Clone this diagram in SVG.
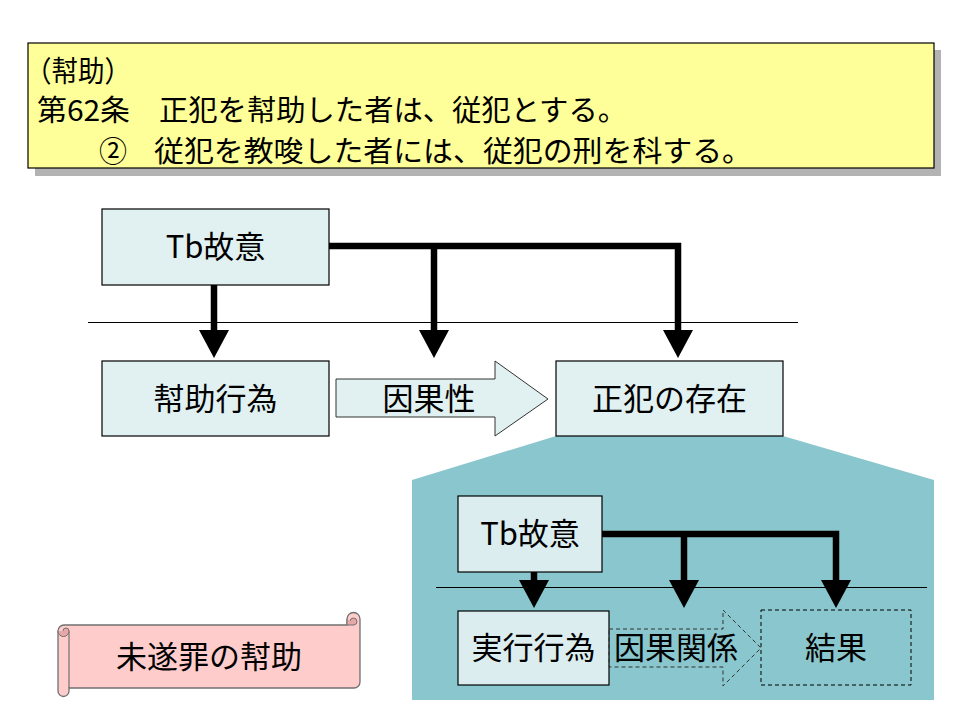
<svg xmlns="http://www.w3.org/2000/svg" width="960" height="720" viewBox="0 0 960 720">
<style>
.t{font-family:"Noto Sans CJK JP","Noto Sans",sans-serif;font-size:31px;fill:#000;text-anchor:middle}
.h{font-family:"Noto Sans CJK JP","Noto Sans",sans-serif;font-size:29px;fill:#000}
.box{fill:#E1F0F1;stroke:#000;stroke-width:1.2}
.ibox{fill:#DCEDEF;stroke:#000;stroke-width:1.2}
.conn{fill:none;stroke:#000;stroke-width:6.5;stroke-linejoin:miter;marker-end:url(#ah)}
.rule{stroke:#000;stroke-width:1}
</style>
<defs>
<marker id="ah" markerUnits="userSpaceOnUse" markerWidth="28" markerHeight="30" viewBox="0 -15 28 30" refX="0" refY="0" orient="auto" overflow="visible">
<path d="M0,-15 L28,0 L0,15 Z" fill="#000"/>
</marker>
</defs>
<rect width="960" height="720" fill="#FFFFFF"/>

<g id="header">
<rect x="35" y="50" width="906" height="126" fill="#B3B3B3"/>
<rect x="28" y="43" width="906" height="125" fill="#FFFF99" stroke="#000" stroke-width="1.2"/>
<text class="h" x="25" y="82" textLength="106" lengthAdjust="spacingAndGlyphs">（幇助）</text>
<text class="h" x="37" y="121" textLength="93" lengthAdjust="spacingAndGlyphs">第62条</text>
<text class="h" x="159" y="121" textLength="468" lengthAdjust="spacingAndGlyphs">正犯を幇助した者は、従犯とする。</text>
<text class="h" x="99" y="162" textLength="28" lengthAdjust="spacingAndGlyphs">②</text>
<text class="h" x="154" y="162" textLength="598" lengthAdjust="spacingAndGlyphs">従犯を教唆した者には、従犯の刑を科する。</text>
</g>

<g id="zoom-area">
<polygon points="556,436 783,436 934,480 934,700 412,700 412,480" fill="#8AC6CD"/>
</g>

<g id="rules">
<line class="rule" x1="88" y1="322.5" x2="798" y2="322.5"/>
<line class="rule" x1="436" y1="587.5" x2="927" y2="587.5"/>
</g>

<g id="tb-kokoi">
<rect class="box" x="102" y="209" width="227" height="76"/>
<text class="t" x="215.5" y="258">Tb故意</text>
</g>
<g id="houjo-koui">
<rect class="box" x="102" y="361" width="227" height="75"/>
<text class="t" x="215.5" y="410">幇助行為</text>
</g>
<g id="ingasei">
<polygon points="336,379 495,379 495,361 548,399 495,436 495,417 336,417" fill="#E1F0F1" stroke="#333" stroke-width="1"/>
<text class="t" x="429" y="410">因果性</text>
</g>
<g id="seihan">
<rect class="box" x="556" y="361" width="227" height="75"/>
<text class="t" x="669.5" y="410">正犯の存在</text>
</g>

<g id="inner-tb">
<rect class="ibox" x="458" y="496" width="144" height="76"/>
<text class="t" x="530" y="545">Tb故意</text>
</g>
<g id="jikko-koui">
<rect class="ibox" x="458" y="611" width="151" height="74"/>
<text class="t" x="533.5" y="659">実行行為</text>
</g>
<g id="inga-kankei">
<polygon points="609,629 723,629 723,610 761,648 723,686 723,667 609,667" fill="none" stroke="#333" stroke-width="1" stroke-dasharray="4,3"/>
<text class="t" x="676" y="659">因果関係</text>
</g>
<g id="kekka">
<rect x="761" y="610" width="150" height="75" fill="none" stroke="#000" stroke-width="1" stroke-dasharray="4,3"/>
<text class="t" x="836" y="659">結果</text>
</g>

<g id="connectors">
<path class="conn" d="M214,285 V330"/>
<path class="conn" d="M329,246 H678 V330"/>
<path class="conn" d="M434,246 V330"/>
<path class="conn" d="M534,572 V580"/>
<path class="conn" d="M602,534 H836 V580"/>
<path class="conn" d="M684,534 V580"/>
</g>

<g id="scroll">
<path d="M64,625 H347 V619 A6.5,6.5 0 0 1 360,619 V682 A6,6 0 0 1 354,688 H69 V691 A5.5,5.5 0 0 1 58,691 V631 A6,6 0 0 1 64,625 Z" fill="#FFCCCC" stroke="#707070" stroke-width="1.3"/>
<path d="M69,631 V688" fill="none" stroke="#707070" stroke-width="1.2"/>
<path d="M58,631 A5.5,5.5 0 0 0 69,631 A3,3 0 0 0 63,631" fill="#E8A8A8" stroke="#707070" stroke-width="1"/>
<path d="M347,619 V625 H354 A3.5,3.5 0 1 0 350,621" fill="#E8A8A8" stroke="#707070" stroke-width="1"/>
<text class="t" x="209" y="668">未遂罪の幇助</text>
</g>
</svg>
